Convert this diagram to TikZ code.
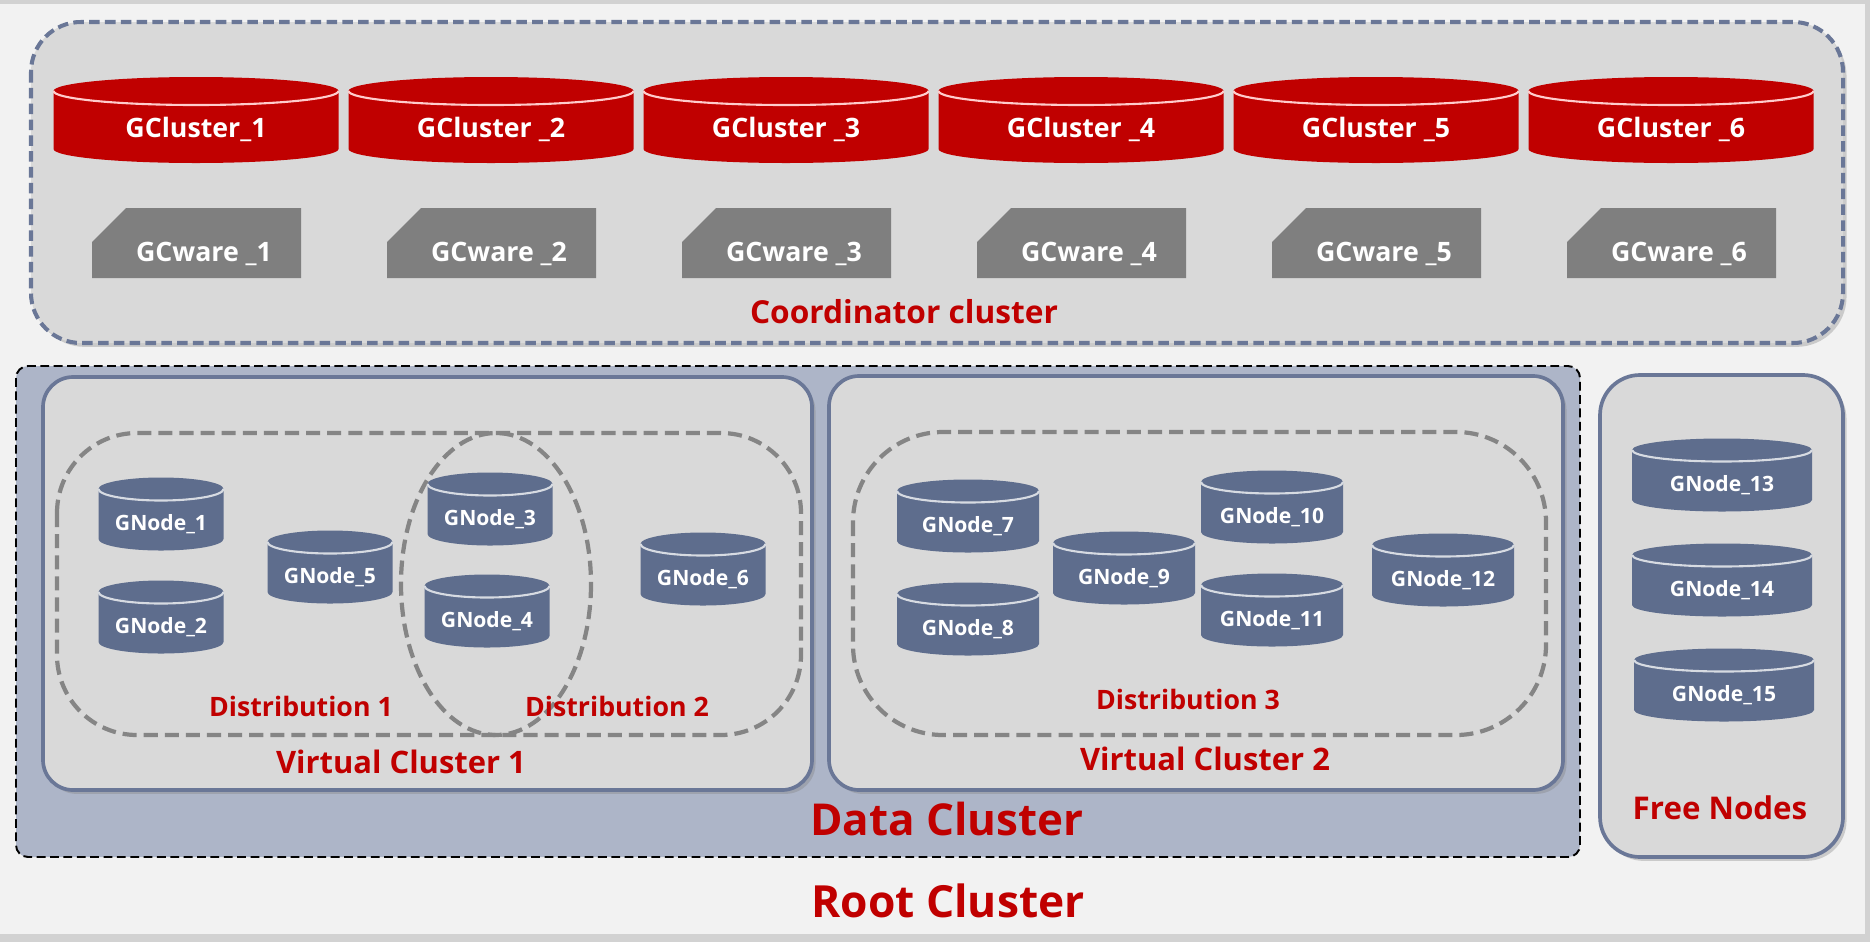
\documentclass[tikz,border=0pt]{standalone}
\usepackage{fontspec}
\setmainfont{Open Sans}
\usepackage{tikz}
\usetikzlibrary{calc,shadows,positioning}

\definecolor{gcred}{HTML}{C00000}
\definecolor{gnodeblue}{HTML}{5E6D8D}
\definecolor{slateline}{HTML}{6A7797}
\definecolor{boxgray}{HTML}{D9D9D9}
\definecolor{datafill}{HTML}{ADB5C8}
\definecolor{bglight}{HTML}{F2F2F2}
\definecolor{bgband}{HTML}{D2D2D2}
\definecolor{waregray}{HTML}{7F7F7F}
\definecolor{distgray}{HTML}{858585}

% cylinder: cx, cy, width, height, end radius, fill, rim colour
\newcommand{\dbcyl}[7]{%
  \fill[#6] ({#1-#3/2},{#2-#4/2+#5}) -- ({#1-#3/2},{#2+#4/2-#5})
    arc[start angle=180,end angle=0,x radius={#3/2},y radius=#5]
    -- ({#1+#3/2},{#2-#4/2+#5})
    arc[start angle=0,end angle=-180,x radius={#3/2},y radius=#5] -- cycle;
  \draw[#7,line width=0.6pt] ({#1-#3/2},{#2-#4/2+#5})
    arc[start angle=180,end angle=0,x radius={#3/2},y radius=#5];}

\begin{document}
\begin{tikzpicture}[x=0.01cm,y=-0.01cm,
  redlbl/.style={text=gcred,font=\bfseries,inner sep=0pt,anchor=base},
  whitelbl/.style={text=white,font=\bfseries,inner sep=0pt,anchor=base},
  roundbox/.style={fill=boxgray,draw=slateline,line width=1.05pt,
    drop shadow={shadow xshift=1pt,shadow yshift=-1.1pt,opacity=0.35}},
  distline/.style={draw=distgray,line width=1.2pt,dash pattern=on 4pt off 2pt}]
\useasboundingbox (0,0) rectangle (1870,942);
\fill[bgband] (0,0) rectangle (1870,942);
\fill[bglight] (0,4) rectangle (1865,934);

% coordinator cluster
\path[fill=boxgray,draw=slateline,line width=1.15pt,dash pattern=on 3pt off 1.5pt,rounded corners=0.5cm,
  drop shadow={shadow xshift=1pt,shadow yshift=-1.1pt,opacity=0.35}] (31,22) rectangle (1843,343);
\foreach \i in {1,...,6}{
  \pgfmathsetmacro{\cx}{196+295*(\i-1)}
  \dbcyl{\cx}{120}{285}{86}{14}{gcred}{red!20}
  \node[whitelbl,font=\bfseries\fontsize{7.6pt}{9pt}\selectfont] (gc\i) at (\cx,137)
    {\ifnum\i=1 GCluster\_1\else GCluster \_\i\fi};
  \fill[waregray] ({\cx-104},278) -- ({\cx-104},242) -- ({\cx-70},208) -- ({\cx+105},208) -- ({\cx+105},278) -- cycle;
  \node[whitelbl,font=\bfseries\fontsize{7.6pt}{9pt}\selectfont] (gw\i) at ({\cx+8},261) {GCware \_\i};
}
\node[redlbl,font=\bfseries\fontsize{9pt}{11pt}\selectfont] (coord) at (904,323) {Coordinator cluster};

% data cluster
\path[fill=datafill,draw=black,line width=0.55pt,dash pattern=on 2.5pt off 1.3pt,rounded corners=0.12cm]
  (16,366) rectangle (1580,857);
\path[roundbox,rounded corners=0.3cm] (43,377) rectangle (812,790);
\path[roundbox,rounded corners=0.3cm] (829,376) rectangle (1563,790);
\path[roundbox,rounded corners=0.4cm] (1600,375) rectangle (1843,857);

% distributions
\path[distline,rounded corners=0.8cm] (57,433) rectangle (801,735);
\path[distline] (496,584) ellipse[x radius=95,y radius=151];
\path[distline,rounded corners=0.9cm] (853,432) rectangle (1546,735);

% data nodes
\foreach \n/\x/\y/\w in {1/161/514/125, 2/161/617/125, 5/330/567/125, 3/490/509/125,
    4/487/611/125, 6/703/569/125, 7/968/516/142, 8/968/619/142, 9/1124/568/142,
    10/1272/507/142, 11/1272/610/142, 12/1443/570/142, 13/1722/475/180,
    14/1722/580/180, 15/1724/685/180}{
  \dbcyl{\x}{\y}{\w}{73}{11.5}{gnodeblue}{gnodeblue!25}
  \node[whitelbl,font=\bfseries\fontsize{6pt}{7pt}\selectfont] (gn\n) at (\x,{\y+16}) {GNode\_\n};
}

\node[redlbl,font=\bfseries\fontsize{7.6pt}{9pt}\selectfont] (dist1) at (301,716) {Distribution 1};
\node[redlbl,font=\bfseries\fontsize{7.6pt}{9pt}\selectfont] (dist2) at (617,716) {Distribution 2};
\node[redlbl,font=\bfseries\fontsize{7.6pt}{9pt}\selectfont] (dist3) at (1188,709) {Distribution 3};
\node[redlbl,font=\bfseries\fontsize{8.8pt}{10pt}\selectfont] (vc1) at (401,773) {Virtual Cluster 1};
\node[redlbl,font=\bfseries\fontsize{8.8pt}{10pt}\selectfont] (vc2) at (1205,770) {Virtual Cluster 2};
\node[redlbl,font=\bfseries\fontsize{8.9pt}{10pt}\selectfont] (free) at (1720,819) {Free Nodes};
\node[redlbl,font=\bfseries\fontsize{12.5pt}{14pt}\selectfont] (data) at (947,835) {Data Cluster};
\node[redlbl,font=\bfseries\fontsize{12.6pt}{14pt}\selectfont] (root) at (948,917) {Root Cluster};
\end{tikzpicture}
\end{document}
